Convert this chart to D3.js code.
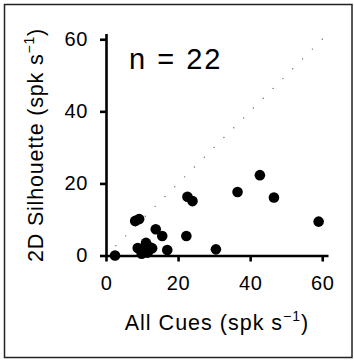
<!DOCTYPE html>
<html><head><meta charset="utf-8">
<script src="https://cdn.jsdelivr.net/npm/d3@7"></script>
<style>body{margin:0;background:#fff}svg{display:block}text{font-family:"Liberation Sans",Arial,Helvetica,sans-serif;fill:#000}</style>
</head><body>
<script>
const allCues = [2.5, 8.1, 9.2, 8.8, 9.9, 10.5, 11.1, 11.5, 12.2, 12.8, 11.8, 13.8, 15.6, 17.0, 22.3, 22.6, 24.0, 30.5, 36.5, 42.7, 46.6, 59.0];
const silhouette = [0.0, 9.6, 10.1, 2.1, 0.5, 1.8, 3.5, 0.8, 2.3, 2.0, 1.4, 7.3, 5.4, 1.5, 5.4, 16.3, 15.1, 1.7, 17.6, 22.3, 16.1, 9.4];
const xTicks = [0, 20, 40, 60];
const yTicks = [0, 20, 40, 60];
const annotation = "n = 22";

const W = 354, H = 360;
const svg = d3.select("body").append("svg").attr("width", W).attr("height", H);

svg.append("rect").attr("x", 4.5).attr("y", 4.5).attr("width", 347.5).attr("height", 353)
  .attr("fill", "none").attr("stroke", "#222").attr("stroke-width", 1.5);

const x = d3.scaleLinear().domain([0, 61.6]).range([106, 328]);
const y = d3.scaleLinear().domain([0, 61.6]).range([255.5, 33.5]);

// identity line
svg.append("line")
  .attr("x1", x(0)).attr("y1", y(0)).attr("x2", x(60)).attr("y2", y(60))
  .attr("stroke", "#666").attr("stroke-width", 1.4)
  .attr("stroke-dasharray", "0 13.9").attr("stroke-dashoffset", -13.9)
  .attr("stroke-linecap", "round");

const xAxis = svg.append("g").attr("transform", `translate(0,${y(0)})`)
  .call(d3.axisBottom(x).tickValues(xTicks).tickSize(6).tickPadding(14).tickSizeOuter(0));
const yAxis = svg.append("g").attr("transform", `translate(${x(0)},0)`)
  .call(d3.axisLeft(y).tickValues(yTicks).tickSize(6).tickPadding(12).tickSizeOuter(0));
[xAxis, yAxis].forEach(g => {
  g.select(".domain").attr("stroke", "#000").attr("stroke-width", 2.6);
  g.selectAll(".tick line").attr("stroke", "#000").attr("stroke-width", 2.6);
  g.selectAll(".tick text").attr("font-size", 20).attr("letter-spacing", 0.6)
    .attr("font-family", '"Liberation Sans",Arial,sans-serif').attr("fill", "#000");
});

svg.append("g").selectAll("circle").data(allCues).join("circle")
  .attr("cx", d => x(d)).attr("cy", (d, i) => y(silhouette[i])).attr("r", 5.3).attr("fill", "#000");

svg.append("text").attr("x", 129).attr("y", 69).attr("font-size", 29).attr("letter-spacing", 2).text(annotation);

const xl = svg.append("text").attr("x", 217).attr("y", 330).attr("text-anchor", "middle")
  .attr("font-size", 21.5).attr("letter-spacing", 1);
xl.append("tspan").text("All Cues (spk s");
xl.append("tspan").attr("font-size", 14).attr("dy", -9).text("\u22121");
xl.append("tspan").attr("dy", 9).text(")");

const yl = svg.append("text").attr("transform", "translate(43,145) rotate(-90)").attr("text-anchor", "middle")
  .attr("font-size", 21.5).attr("letter-spacing", 0.8);
yl.append("tspan").text("2D Silhouette (spk s");
yl.append("tspan").attr("font-size", 14).attr("dy", -9).text("\u22121");
yl.append("tspan").attr("dy", 9).text(")");
</script>
</body></html>
